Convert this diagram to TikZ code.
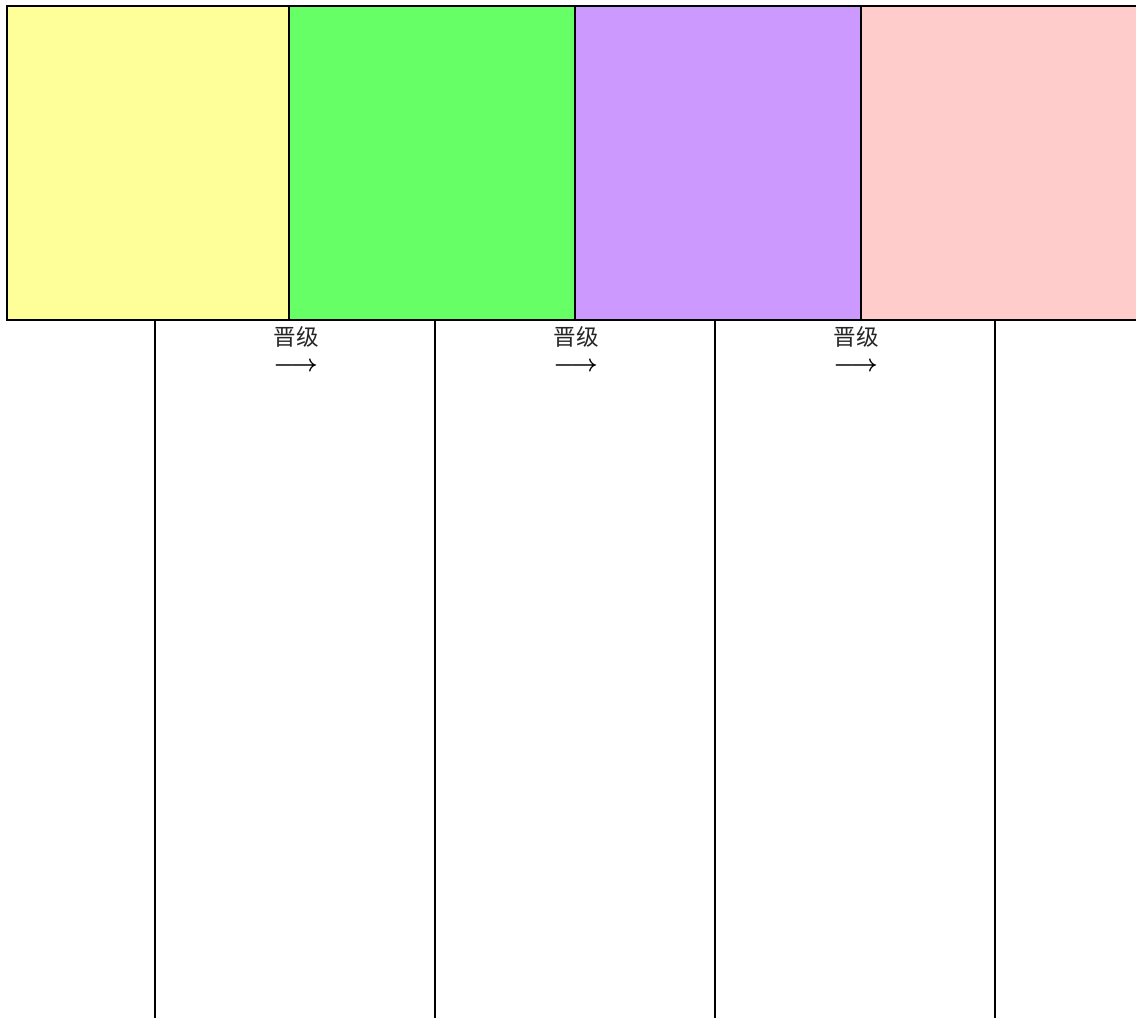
\documentclass[tikz,border=0pt]{standalone}
\usepackage{fontspec}
\newfontfamily\cjk{Noto Sans CJK SC}
\definecolor{stageyellow}{HTML}{FFFF99}
\definecolor{stagegreen}{HTML}{66FF66}
\definecolor{stagepurple}{HTML}{CC99FF}
\definecolor{stagepink}{HTML}{FFCCCC}
\tikzset{
  stagebox/.style={draw=black, line width=1pt},
  lane/.style={draw=black, line width=1pt},
  promote/.style={font=\cjk\fontsize{11.3}{12}\selectfont, text=black!85, align=left, inner sep=0pt}
}
\begin{document}
\begin{tikzpicture}[x=0.5pt,y=-0.5pt]
\useasboundingbox (0,0) rectangle (1136,1018);
% Stages along the top
\path[stagebox, fill=stageyellow] (7,6) rectangle (289,320);
\path[stagebox, fill=stagegreen] (289,6) rectangle (575,320);
\path[stagebox, fill=stagepurple] (575,6) rectangle (861,320);
\path[stagebox, fill=stagepink] (861,6) rectangle (1150,320);
% Lanes below
\foreach \x in {155,435,715,995}
  \draw[lane] (\x,320) -- (\x,1020);
% Promotion labels
\foreach \x [count=\i] in {296,576,856}
  \node[promote] (promote\i) at (\x,349) {晋级\\[1pt]{\color{black}\fontsize{12.6}{12}\selectfont\boldmath$\longrightarrow$}};
\end{tikzpicture}
\end{document}
